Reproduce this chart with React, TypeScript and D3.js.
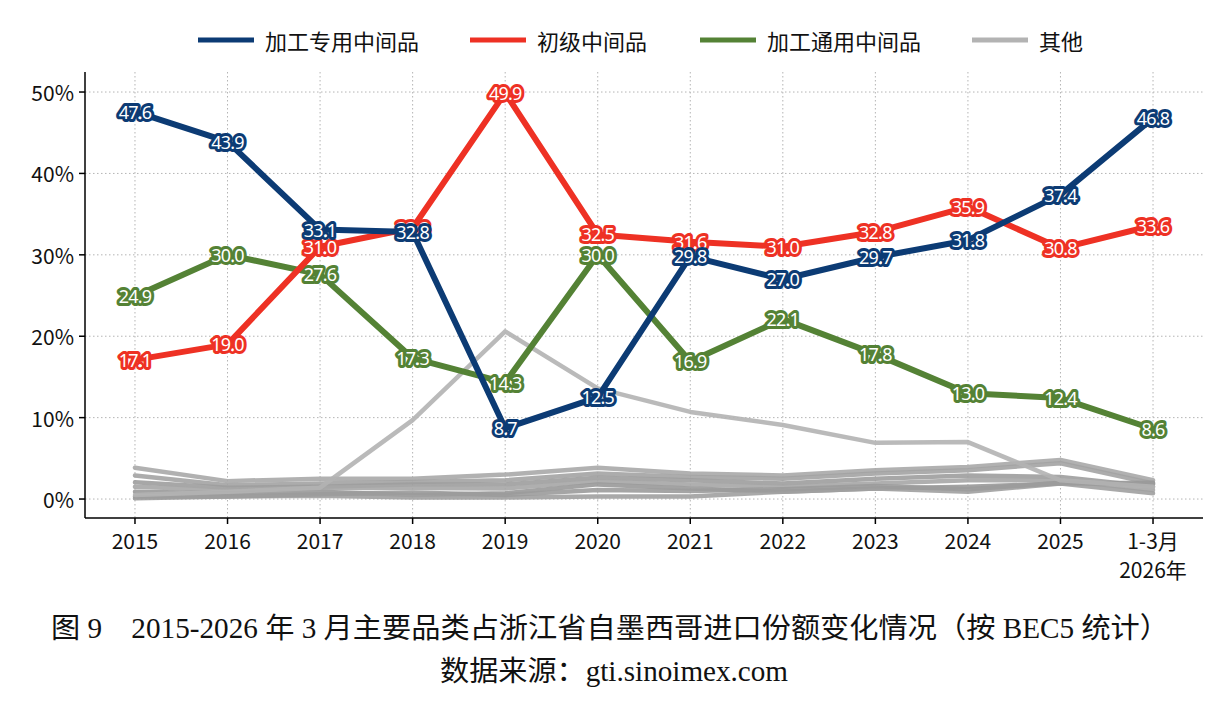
import React from "react";
import * as d3 from "d3";

// Periods on the x axis; the last one is a partial year (two-line label)
const periods = ["2015", "2016", "2017", "2018", "2019", "2020", "2021", "2022", "2023", "2024", "2025", "1-3月\n2026年"];

// Share of imports (%) per category
const processedSpecific = [47.6, 43.9, 33.1, 32.8, 8.7, 12.5, 29.8, 27.0, 29.7, 31.8, 37.4, 46.8];
const primaryGoods = [17.1, 19.0, 31.0, 33.3, 49.9, 32.5, 31.6, 31.0, 32.8, 35.9, 30.8, 33.6];
const processedGeneral = [24.9, 30.0, 27.6, 17.3, 14.3, 30.0, 16.9, 22.1, 17.8, 13.0, 12.4, 8.6];

// "Other" categories, drawn in grey without labels
const otherMain = [0.5, 0.9, 1.4, 9.7, 20.6, 13.6, 10.7, 9.1, 6.9, 7.0, 2.3, 1.5];
const otherA = [3.85, 2.2, 2.5, 2.5, 3.0, 3.85, 3.15, 2.9, 3.55, 3.95, 4.8, 2.3];
const otherB = [2.9, 1.7, 1.9, 2.1, 2.3, 3.15, 2.7, 2.5, 3.15, 3.55, 4.4, 1.9];
const otherC = [2.05, 1.4, 1.5, 1.8, 1.8, 2.6, 2.3, 1.9, 2.5, 2.9, 2.7, 1.5];
const otherD = [1.5, 1.1, 1.35, 1.35, 1.3, 2.2, 1.8, 1.5, 1.9, 2.3, 2.3, 1.1];
const otherE = [0.9, 0.7, 0.9, 0.5, 0.7, 1.8, 1.3, 0.9, 1.3, 1.5, 1.9, 2.0];
const otherF = [0.3, 0.3, 0.4, 0.2, 0.2, 0.3, 0.3, 0.9, 1.3, 0.9, 1.9, 0.7];
const otherG = [0.1, 0.3, 0.6, 0.8, 0.5, 1.1, 1.0, 1.2, 1.6, 1.2, 2.0, 1.8];

const yTicks = [0, 10, 20, 30, 40, 50];

const legendNames = ["加工专用中间品", "初级中间品", "加工通用中间品", "其他"];

const BLUE = "#0c3b74";
const RED = "#ee3124";
const GREEN = "#548235";
const GREY = "#b3b3b3";

const W = 1232;
const H = 707;
const plot = { left: 85, right: 1203, top: 72, bottom: 518 };

const x = d3.scalePoint<string>().domain(periods).range([plot.left, plot.right]).padding(0.54);
const y = d3.scaleLinear().domain([-2.33, 52.46]).range([plot.bottom, plot.top]);

const line = d3
  .line<number>()
  .x((_, i) => x(periods[i]) as number)
  .y((v) => y(v));

const greys = [
  { data: otherA, color: "#a9a9a9" },
  { data: otherB, color: "#a3a3a3" },
  { data: otherC, color: "#9d9d9d" },
  { data: otherD, color: "#a6a6a6" },
  { data: otherE, color: "#999999" },
  { data: otherF, color: "#a0a0a0" },
  { data: otherG, color: "#9b9b9b" },
  { data: otherMain, color: GREY },
];

const labeled = [
  { data: processedGeneral, color: GREEN },
  { data: primaryGoods, color: RED },
  { data: processedSpecific, color: BLUE },
];

const sansFont = "'Noto Sans CJK SC', 'Noto Sans', sans-serif";
const labelFont = "'Noto Sans', 'DejaVu Sans', sans-serif";
const serifFont = "'Liberation Serif', 'Noto Sans CJK SC', serif";

export default function App() {
  return (
    <svg
      width={W}
      height={H}
      viewBox={`0 0 ${W} ${H}`}
      style={{ position: "absolute", left: 0, top: 0, background: "#fff" }}
      fontFamily={sansFont}
    >
      {/* grid */}
      <g stroke="#b4b4b4" strokeWidth={1} strokeDasharray="1.5,2.5">
        {yTicks.map((t) => (
          <line key={`gy${t}`} x1={plot.left} x2={plot.right} y1={y(t)} y2={y(t)} />
        ))}
        {periods.map((p) => (
          <line key={`gx${p}`} x1={x(p)} x2={x(p)} y1={plot.top} y2={plot.bottom} />
        ))}
      </g>

      {/* axes */}
      <g stroke="#000" strokeWidth={1.5}>
        <line x1={plot.left} x2={plot.left} y1={plot.top} y2={plot.bottom} />
        <line x1={plot.left} x2={plot.right} y1={plot.bottom} y2={plot.bottom} />
        {yTicks.map((t) => (
          <line key={`ty${t}`} x1={plot.left - 6} x2={plot.left} y1={y(t)} y2={y(t)} />
        ))}
        {periods.map((p) => (
          <line key={`tx${p}`} x1={x(p)} x2={x(p)} y1={plot.bottom} y2={plot.bottom + 6} />
        ))}
      </g>
      <g fontSize={21} fill="#111">
        {yTicks.map((t) => (
          <text key={`ly${t}`} x={plot.left - 11} y={y(t)} textAnchor="end" dominantBaseline="central">
            {`${t}%`}
          </text>
        ))}
        {periods.map((p) =>
          p.split("\n").map((part, k) => (
            <text
              key={`lx${p}${k}`}
              x={x(p)}
              y={plot.bottom + 22 + k * 29}
              textAnchor="middle"
              dominantBaseline="central"
            >
              {part}
            </text>
          ))
        )}
      </g>

      {/* other categories */}
      <g fill="none" strokeWidth={4.5} strokeLinejoin="round" strokeLinecap="round">
        {greys.map((s, i) => (
          <path key={`g${i}`} d={line(s.data) || ""} stroke={s.color} strokeOpacity={0.9} />
        ))}
      </g>

      {/* main categories with value labels */}
      {labeled.map((s, si) => (
        <g key={`s${si}`}>
          <path
            d={line(s.data) || ""}
            fill="none"
            stroke={s.color}
            strokeWidth={6}
            strokeLinejoin="round"
            strokeLinecap="round"
          />
          {s.data.map((v, i) => (
            <text
              key={`v${i}`}
              x={x(periods[i])}
              y={y(v)}
              textAnchor="middle"
              dominantBaseline="central"
              fontFamily={labelFont}
              fontSize={18}
              fill="#fff"
              stroke={s.color}
              strokeWidth={6}
              strokeLinejoin="round"
              paintOrder="stroke"
              letterSpacing={-0.8}
            >
              {v.toFixed(1)}
            </text>
          ))}
        </g>
      ))}

      {/* legend */}
      <g fontSize={22} fill="#111">
        {[
          { x0: 198, color: BLUE },
          { x0: 470, color: RED },
          { x0: 700, color: GREEN },
          { x0: 972, color: GREY },
        ].map((l, i) => (
          <g key={`lg${i}`}>
            <line x1={l.x0} x2={l.x0 + 56} y1={40} y2={40} stroke={l.color} strokeWidth={5} />
            <text x={l.x0 + 67} y={40} dominantBaseline="central">
              {legendNames[i]}
            </text>
          </g>
        ))}
      </g>

      {/* caption */}
      <g fontFamily={serifFont} fontSize={28.5} fill="#111" textAnchor="middle">
        <text x={610} y={628} dominantBaseline="central" textLength={1118} lengthAdjust="spacingAndGlyphs">
          图 9　2015-2026 年 3 月主要品类占浙江省自墨西哥进口份额变化情况（按 BEC5 统计）
        </text>
        <text x={614} y={671} dominantBaseline="central" textLength={348} lengthAdjust="spacingAndGlyphs">
          数据来源：gti.sinoimex.com
        </text>
      </g>
    </svg>
  );
}
